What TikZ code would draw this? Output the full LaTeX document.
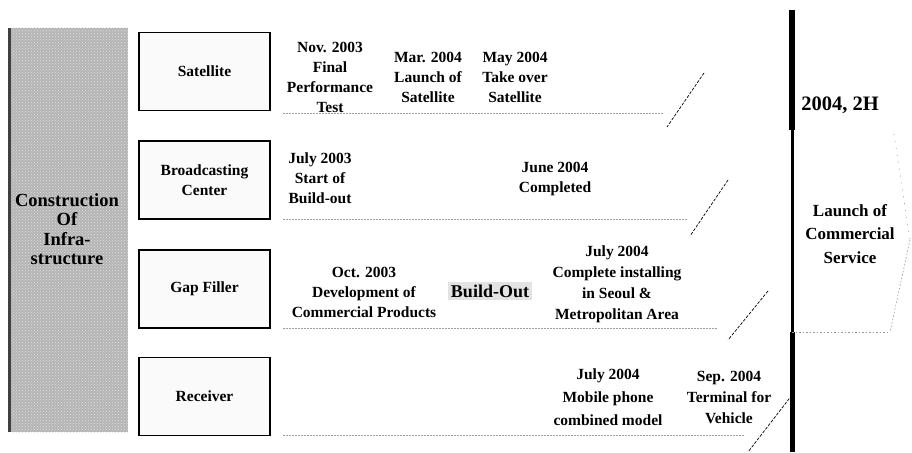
\documentclass[tikz,border=0pt]{standalone}
\usepackage{fontspec}
\setmainfont{Liberation Serif}
\usetikzlibrary{patterns}
\begin{document}
\begin{tikzpicture}[x=1pt,y=-1pt,
  txt/.style={font=\bfseries\fontsize{15.5}{20}\selectfont, align=center, inner sep=0pt},
  txtwide/.style={txt, font=\bfseries\fontsize{15.5}{23}\selectfont},
  areabox/.style={draw=black, line width=1.3pt, fill=gray!4, minimum width=131pt,
    minimum height=78pt, font=\bfseries\fontsize{15.5}{20}\selectfont, align=center},
  rowline/.style={gray!75, line width=0.7pt, dash pattern=on 1.6pt off 1.4pt},
  slash/.style={black, line width=0.7pt, dash pattern=on 3pt off 1.5pt},
  faint/.style={gray!80, line width=0.6pt, dash pattern=on 1.5pt off 2pt}]
\useasboundingbox (0,0) rectangle (912,452);
\fill[white] (0,0) rectangle (912,452);

% left category panel
\fill[gray!58] (8,28) rectangle (128,432);
\fill[pattern=crosshatch dots, pattern color=gray!25] (11,28) rectangle (128,432);
\fill[black!75] (8,28) rectangle (11,432);
\node[txt, font=\bfseries\fontsize{18.5}{19.5}\selectfont] (infra) at (67,229)
  {Construction\\Of\\Infra-\\structure};

% area boxes
\node[areabox] (sat) at (204.5,71.5) {Satellite};
\node[areabox] (bc)  at (204.5,180)  {Broadcasting\\Center};
\node[areabox] (gf)  at (204.5,289)  {Gap Filler};
\node[areabox] (rc)  at (204.5,396.5) {Receiver};

% milestones: satellite
\node[txt] (s1) at (330,77) {Nov. 2003\\Final\\Performance\\Test};
\node[txt] (s2) at (428,77) {Mar. 2004\\Launch of\\Satellite};
\node[txt] (s3) at (515,77) {May 2004\\Take over\\Satellite};

% milestones: broadcasting center
\node[txt] (b1) at (320,178) {July 2003\\Start of\\Build-out};
\node[txt] (b2) at (555,179) {June 2004\\Completed};

% milestones: gap filler
\node[txt] (g1) at (364,292) {Oct. 2003\\Development of\\Commercial Products};
\node[txt, fill=gray!22, inner sep=3pt, font=\bfseries\fontsize{18}{20}\selectfont]
  (g2) at (490,291) {Build-Out};
\node[txt, font=\bfseries\fontsize{15.5}{21}\selectfont] (g3) at (617,284)
  {July 2004\\Complete installing\\in Seoul \&\\Metropolitan Area};

% milestones: receiver
\node[txtwide] (r1) at (608,397) {July 2004\\Mobile phone\\combined model};
\node[txt, font=\bfseries\fontsize{15.5}{21}\selectfont] (r2) at (729,397)
  {Sep. 2004\\Terminal for\\Vehicle};

% row separators and break marks
\coordinate (l1a) at (283,113); \coordinate (l1b) at (663,113);
\coordinate (l2a) at (283,219); \coordinate (l2b) at (687,219);
\coordinate (l3a) at (283,328); \coordinate (l3b) at (717,328);
\coordinate (l4a) at (283,435); \coordinate (l4b) at (745,435);
\draw[rowline] (l1a) -- (l1b);
\draw[rowline] (l2a) -- (l2b);
\draw[rowline] (l3a) -- (l3b);
\draw[rowline] (l4a) -- (l4b);

\coordinate (k1a) at (704,73);  \coordinate (k1b) at (667,127);
\coordinate (k2a) at (728,180); \coordinate (k2b) at (690,236);
\coordinate (k3a) at (768,291); \coordinate (k3b) at (728,340);
\coordinate (k4a) at (792,395); \coordinate (k4b) at (748,452);
\draw[slash] (k1a) -- (k1b);
\draw[slash] (k2a) -- (k2b);
\draw[slash] (k3a) -- (k3b);
\draw[slash] (k4a) -- (k4b);

% launch milestone line and panel
\coordinate (vtop) at (792,10);
\coordinate (pt) at (792,130);
\coordinate (pb) at (792,332);
\coordinate (vbot) at (792,452);
\coordinate (pr1) at (894,134);
\coordinate (pr2) at (910,240);
\coordinate (pr3) at (890,332);
\draw[line width=5.5pt] (vtop) -- (pt);
\draw[line width=3pt] (pt) -- (pb);
\draw[line width=5pt] (pb) -- (vbot);
\draw[faint, dash pattern=on 1pt off 6pt] (pr1) -- (pr2);
\draw[faint] (pr2) -- (pr3);
\draw[faint] (pb) -- (pr3);

\node[txt, font=\bfseries\fontsize{20.5}{24}\selectfont] (yr) at (840,105) {2004, 2H};
\node[txtwide, font=\bfseries\fontsize{17}{23.5}\selectfont] (lc) at (850,234)
  {Launch of\\Commercial\\Service};
\end{tikzpicture}
\end{document}
